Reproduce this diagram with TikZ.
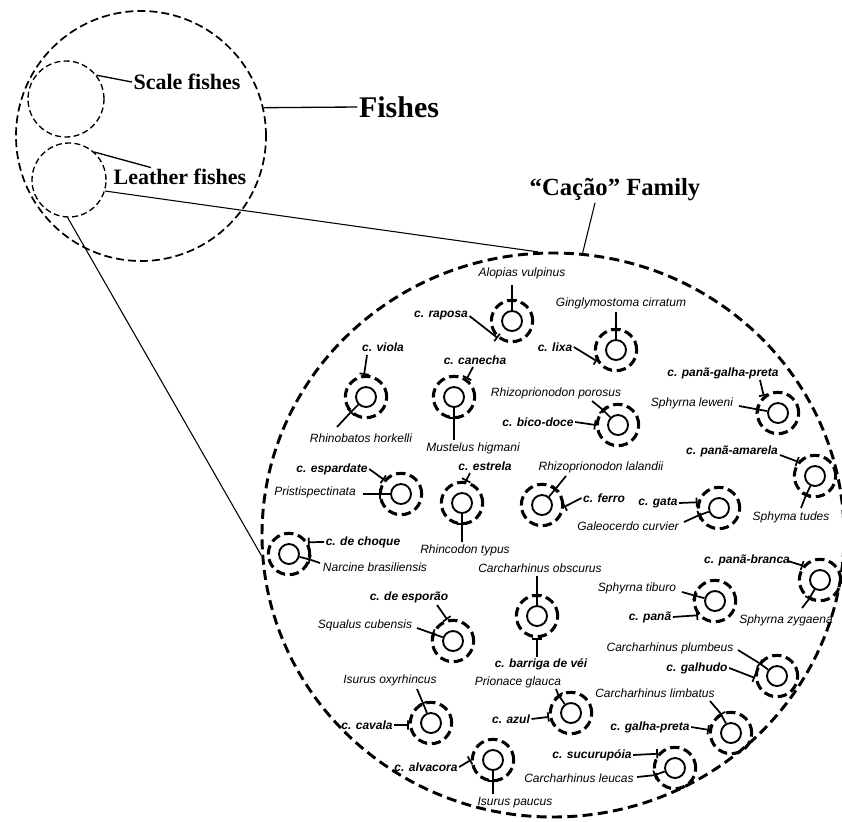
\documentclass[tikz,border=0pt]{standalone}
\usepackage{fontspec}
\setmainfont{Liberation Serif}
\newfontfamily\labelfont{Liberation Sans}
\usetikzlibrary{shapes,arrows.meta}

% one species: dashed ring with a small solid circle inside
\newcommand{\shark}[2]{%
  \node[ring] (#1) at (#2) {};
  \node[core] (#1-i) at (#2) {};}
% popular name: name, angle on ring, text, label position, line start
\newcommand{\popular}[5]{%
  \node[popname] (#1-p) at (#4) {#3};
  \coordinate (#1-q) at (#5);
  \draw[barend] (#1-q) -- (#1.#2);}
% scientific name: name, angle, text, label position, line end
\newcommand{\species}[5]{%
  \node[sciname] (#1-s) at (#4) {#3};
  \coordinate (#1-e) at (#5);
  \draw[barend] (#1-i.#2) -- (#1.#2);
  \draw[link] (#1.#2) -- (#1-e);}

\begin{document}
\begin{tikzpicture}[x=0.75pt,y=-0.75pt]
	\tikzstyle{ring}=[draw, circle, line width=2.3pt, dash pattern=on 7pt off 3.5pt, minimum size=31pt, inner sep=0pt]
	\tikzstyle{core}=[draw, circle, line width=1.4pt, minimum size=15pt, inner sep=0pt]
	\tikzstyle{link}=[line width=1.3pt]
	\tikzstyle{barend}=[line width=1.3pt, -{Bar[width=7pt]}]
	\tikzstyle{popname}=[inner sep=1pt, font=\labelfont\bfseries\itshape\fontsize{9}{10}\selectfont]
	\tikzstyle{sciname}=[inner sep=1pt, font=\labelfont\itshape\fontsize{9}{10}\selectfont]
	\tikzstyle{bigring}=[draw, circle, line width=1.3pt, dash pattern=on 6pt off 3pt, inner sep=0pt]
	\tikzstyle{smallring}=[draw, circle, line width=1pt, dash pattern=on 4.5pt off 2.5pt, inner sep=0pt]
	\tikzstyle{title}=[inner sep=1pt, font=\bfseries\fontsize{16.5}{18}\selectfont]

	\useasboundingbox (0,0) rectangle (842,821);

	% fishes
	\node[bigring, minimum size=187.5pt] (fishes) at (141,136) {};
	\node[smallring, minimum size=57pt] (scale) at (66,99) {};
	\node[smallring, minimum size=55.5pt] (leather) at (69,180) {};
	\node[title] (scalelbl) at (187,82) {Scale fishes};
	\node[title] (leatherlbl) at (180,177) {Leather fishes};
	\node[inner sep=1pt, font=\bfseries\fontsize{22.5}{24}\selectfont] (fisheslbl) at (399,107) {Fishes};
	\draw[line width=1pt] (scale.38) -- (scalelbl.west);
	\draw[line width=1pt] (leather.48) -- (leatherlbl.162);
	\draw[line width=1pt] (fishes.13) -- (fisheslbl.west);

	% family
	\node[draw, ellipse, line width=2.2pt, dash pattern=on 7.5pt off 4pt, minimum width=436.5pt, minimum height=423pt, inner sep=0pt] (family) at (553,535) {};
	\node[inner sep=1pt, font=\bfseries\fontsize{18.5}{20}\selectfont] (familylbl) at (615,190) {“Cação” Family};
	\draw[line width=0.8pt] ([xshift=-15pt]familylbl.south) -- (family.84);
	\draw[line width=0.8pt] (leather.-17) -- (family.93);
	\draw[line width=0.8pt] (leather.-92) -- (family.184);

	\shark{raposa}{512,321}
	\popular{raposa}{230}{c. raposa}{441,316}{raposa-p.east}
	\species{raposa}{90}{Alopias vulpinus}{522,273}{512,285}

	\shark{lixa}{616,350}
	\popular{lixa}{210}{c. lixa}{555,347}{lixa-p.east}
	\species{lixa}{90}{Ginglymostoma cirratum}{621,303}{616,312}

	\shark{viola}{366,397}
	\popular{viola}{95}{c. viola}{383,347}{367,355}
	\species{viola}{225}{Rhinobatos horkelli}{361,438}{337,427}

	\shark{canecha}{454,397}
	\popular{canecha}{55}{c. canecha}{475,360}{473,367}
	\species{canecha}{270}{Mustelus higmani}{473,448}{454,440}

	\shark{espardate}{401,494}
	\popular{espardate}{140}{c. espardate}{332,469}{espardate-p.east}
	\species{espardate}{180}{Pristispectinata}{315,492}{363,494}

	\shark{estrela}{462,503}
	\popular{estrela}{80}{c. estrela}{485,466}{470,473}
	\species{estrela}{270}{Rhincodon typus}{465,550}{462,542}

	\shark{choque}{289,554}
	\popular{choque}{32}{c. de choque}{363,542}{choque-p.west}
	\species{choque}{-15}{Narcine brasiliensis}{375,567}{320,563}

	\shark{bicodoce}{618,425}
	\popular{bicodoce}{180}{c. bico-doce}{538,422}{bicodoce-p.east}
	\species{bicodoce}{135}{Rhizoprionodon porosus}{556,393}{592,401}

	\shark{ferro}{542,505}
	\popular{ferro}{-5}{c. ferro}{604,498}{ferro-p.west}
	\species{ferro}{50}{Rhizoprionodon lalandii}{601,467}{566,476}

	\shark{gata}{719,508}
	\popular{gata}{165}{c. gata}{658,503}{gata-p.east}
	\species{gata}{200}{Galeocerdo curvier}{628,526}{684,522}

	\shark{pgpreta}{778,413}
	\popular{pgpreta}{130}{c. panã-galha-preta}{723,373}{760,380}
	\species{pgpreta}{170}{Sphyrna leweni}{692,403}{739,406}

	\shark{amarela}{815,476}
	\popular{amarela}{140}{c. panã-amarela}{732,451}{780,455}
	\species{amarela}{245}{Sphyma tudes}{791,517}{801,508}

	\shark{branca}{820,580}
	\popular{branca}{140}{c. panã-branca}{747,560}{788,561}
	\species{branca}{240}{Sphyrna zygaena}{786,620}{802,608}

	\shark{pana}{715,601}
	\popular{pana}{220}{c. panã}{650,617}{pana-p.east}
	\species{pana}{165}{Sphyrna tiburo}{637,588}{682,592}

	\shark{galhudo}{777,676}
	\popular{galhudo}{185}{c. galhudo}{697,668}{galhudo-p.east}
	\species{galhudo}{144}{Carcharhinus plumbeus}{670,648}{738,650}

	\shark{galhapreta}{731,733}
	\popular{galhapreta}{172}{c. galha-preta}{650,727}{galhapreta-p.east}
	\species{galhapreta}{118}{Carcharhinus limbatus}{655,693}{710,701}

	\shark{sucurupoia}{675,768}
	\popular{sucurupoia}{140}{c. sucurupóia}{592,755}{sucurupoia-p.east}
	\species{sucurupoia}{199}{Carcharhinus leucas}{579,778}{637,777}

	\shark{barriga}{537,616}
	\popular{barriga}{270}{c. barriga de véi}{541,664}{537,657}
	\species{barriga}{90}{Carcharhinus obscurus}{540,568}{537,576}

	\shark{azul}{571,713}
	\popular{azul}{190}{c. azul}{511,719}{azul-p.east}
	\species{azul}{125}{Prionace glauca}{518,682}{556,689}

	\shark{esporao}{453,641}
	\popular{esporao}{105}{c. de esporão}{409,597}{437,605}
	\species{esporao}{160}{Squalus cubensis}{365,625}{417,628}

	\shark{cavala}{431,723}
	\popular{cavala}{185}{c. cavala}{367,725}{cavala-p.east}
	\species{cavala}{112}{Isurus oxyrhincus}{390,680}{417,689}

	\shark{alvacora}{493,760}
	\popular{alvacora}{180}{c. alvacora}{426,767}{alvacora-p.east}
	\species{alvacora}{270}{Isurus paucus}{515,803}{493,794}
\end{tikzpicture}
\end{document}
